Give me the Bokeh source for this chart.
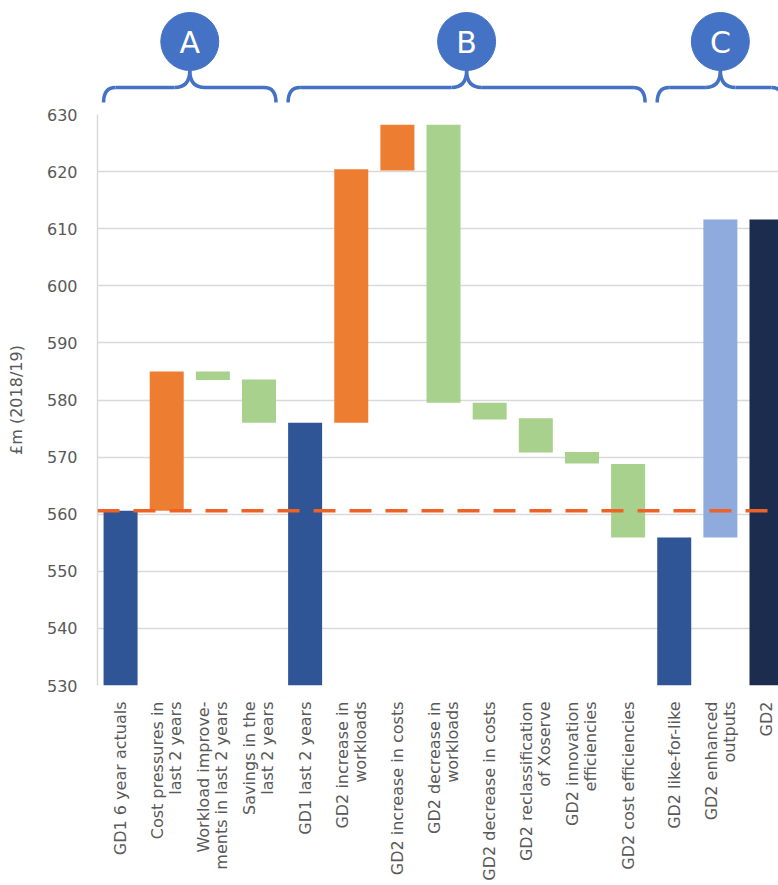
import math
from bokeh.plotting import figure
from bokeh.models import Range1d, FixedTicker, Span
from bokeh.layouts import column
from bokeh.embed import file_html
from bokeh.resources import INLINE
from bokeh.core.properties import value

# ---------------- data ----------------
categories = [
    "GD1 6 year actuals",
    "Cost pressures in\nlast 2 years",
    "Workload improve-\nments in last 2 years",
    "Savings in the\nlast 2 years",
    "GD1 last 2 years",
    "GD2 increase in\nworkloads",
    "GD2 increase in costs",
    "GD2 decrease in\nworkloads",
    "GD2 decrease in costs",
    "GD2 reclassification\nof Xoserve",
    "GD2 innovation\nefficiencies",
    "GD2 cost efficiencies",
    "GD2 like-for-like",
    "GD2 enhanced\noutputs",
    "GD2",
]
bar_low = [0, 560.6, 583.5, 576.0, 0, 576.0, 620.2, 579.5, 576.6, 570.8, 568.9, 555.9, 0, 555.9, 0]
bar_high = [560.6, 585.0, 585.0, 583.6, 576.0, 620.4, 628.2, 628.2, 579.5, 576.8, 570.9, 568.8, 555.9, 611.6, 611.6]
bar_kind = ["total", "increase", "decrease", "decrease", "total", "increase", "increase",
            "decrease", "decrease", "decrease", "decrease", "decrease", "total", "enhanced", "final"]
y_ticks = [530, 540, 550, 560, 570, 580, 590, 600, 610, 620, 630]
baseline = 560.6
groups = ["A", "B", "C"]
group_first = [0, 4, 12]
group_last = [3, 11, 14]

kind_colors = {
    "total": "#2F5597",
    "increase": "#ED7D31",
    "decrease": "#A9D18E",
    "enhanced": "#8FAADC",
    "final": "#1B2C4E",
}
colors = [kind_colors[k] for k in bar_kind]

BAR_W = 0.737
FONT = "DejaVu Sans"
GREY = "#595959"
BLUE = "#4472C4"

xr = Range1d(-0.5, 14.26)

# ---------------- top (braces + letters) ----------------
top = figure(width=778, height=104, x_range=xr, y_range=Range1d(104, 0),
             output_backend="svg", toolbar_location=None,
             min_border_left=97, min_border_right=0, min_border_top=0, min_border_bottom=0)
top.axis.visible = False
top.grid.visible = False
top.outline_line_color = None
top.background_fill_color = None
top.border_fill_color = None

y_end, y_h, y_tip, y_circ = 102, 87, 70, 41
r_end, r_mid = 0.26, 0.33
for g, f, l in zip(groups, group_first, group_last):
    x0 = f - BAR_W / 2
    x1 = l + BAR_W / 2
    xc = (f + l) / 2
    top.quadratic(x0=[x0, xc - r_mid, xc + r_mid, x1 - r_end],
                  y0=[y_end, y_h, y_h, y_h],
                  x1=[x0 + r_end, xc, xc, x1],
                  y1=[y_h, y_tip, y_tip, y_end],
                  cx=[x0, xc, xc, x1],
                  cy=[y_h, y_h, y_h, y_h],
                  line_color=BLUE, line_width=3.5)
    top.segment(x0=[x0 + r_end, xc + r_mid], y0=[y_h, y_h],
                x1=[xc - r_mid, x1 - r_end], y1=[y_h, y_h],
                line_color=BLUE, line_width=3.5)

xc_list = [(f + l) / 2 for f, l in zip(group_first, group_last)]
top.scatter(x=xc_list, y=[y_circ] * 3, size=58, color=BLUE)
top.text(x=xc_list, y=[y_circ + 1] * 3, text=groups, text_align="center",
         text_baseline="middle", text_color="white", text_font_size="30px",
         text_font=value(FONT))

# ---------------- main chart ----------------
p = figure(width=778, height=781, x_range=xr, y_range=Range1d(530, 630),
           output_backend="svg", toolbar_location=None,
           min_border_left=97, min_border_right=0, min_border_top=10, min_border_bottom=200)
p.outline_line_color = None

p.vbar(x=list(range(len(categories))), bottom=bar_low, top=bar_high, width=BAR_W,
       color=colors, line_color=None)

p.add_layout(Span(location=baseline, dimension="width", line_color="#EE6325",
                  line_width=3.5, line_dash="22 14"))

p.xgrid.visible = False
p.ygrid.ticker = FixedTicker(ticks=y_ticks)
p.ygrid.grid_line_color = "#D9D9D9"
p.ygrid.grid_line_width = 1.5

p.yaxis.ticker = FixedTicker(ticks=y_ticks)
p.yaxis.bounds = (530, 630)
p.yaxis.axis_line_color = "#D9D9D9"
p.yaxis.axis_line_width = 1.5
p.yaxis.major_tick_line_color = None
p.yaxis.minor_tick_line_color = None
p.yaxis.major_label_text_font_size = "16px"
p.yaxis.major_label_text_color = GREY
p.yaxis.major_label_text_font = FONT
p.yaxis.major_label_standoff = 14
p.yaxis.axis_label = "£m (2018/19)"
p.yaxis.axis_label_text_font_size = "16px"
p.yaxis.axis_label_text_font_style = "normal"
p.yaxis.axis_label_text_color = GREY
p.yaxis.axis_label_text_font = FONT
p.yaxis.axis_label_standoff = 18

p.xaxis.ticker = FixedTicker(ticks=list(range(len(categories))))
p.xaxis.major_label_overrides = {i: c for i, c in enumerate(categories)}
p.xaxis.major_label_orientation = math.pi / 2
p.xaxis.axis_line_color = None
p.xaxis.major_tick_line_color = None
p.xaxis.minor_tick_line_color = None
p.xaxis.major_label_standoff = 10
p.xaxis.major_label_text_font_size = "16px"
p.xaxis.major_label_text_line_height = 0.95
p.xaxis.major_label_text_color = GREY
p.xaxis.major_label_text_font = FONT

layout = column(top, p, spacing=0)
open("out.html", "w").write(file_html(layout, INLINE))
